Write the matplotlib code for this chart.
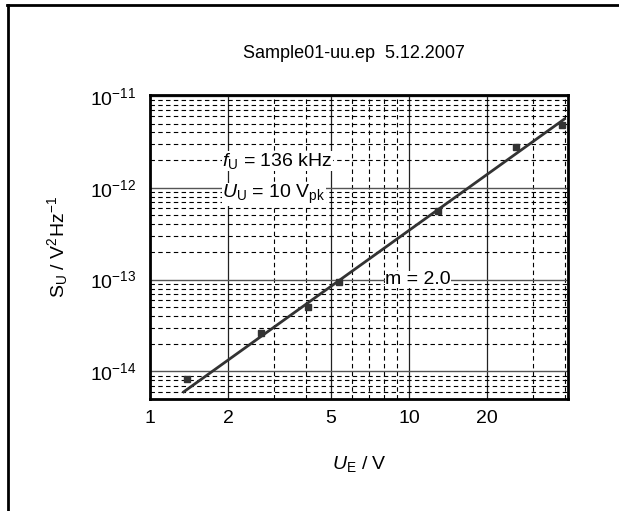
import matplotlib
matplotlib.use("Agg")
import matplotlib.pyplot as plt
from matplotlib.ticker import FixedLocator, FixedFormatter, NullFormatter
from matplotlib.lines import Line2D

plt.rcParams['font.family'] = ['Liberation Sans', 'DejaVu Sans']
plt.rcParams['mathtext.fontset'] = 'custom'
plt.rcParams['mathtext.rm'] = 'Liberation Sans'
plt.rcParams['mathtext.it'] = 'Liberation Sans:italic'
plt.rcParams['mathtext.bf'] = 'Liberation Sans:bold'

# data
ue = [1.39, 2.69, 4.08, 5.38, 12.97, 25.8, 38.8]
su = [8.2e-15, 2.6e-14, 5.0e-14, 9.3e-14, 5.6e-13, 2.76e-12, 4.8e-12]
fit_x = [1.35, 39.8]
fit_y = [6.0e-15, 5.6e-12]

x_major = [1, 2, 5, 10, 20]
x_major_labels = ["1", "2", "5", "10", "20"]
x_minor = [3, 4, 6, 7, 8, 9, 30, 40]

y_major = [1e-14, 1e-13, 1e-12, 1e-11]
y_major_labels = [r"$10^{-14}$", r"$10^{-13}$", r"$10^{-12}$", r"$10^{-11}$"]
y_minor_decades = [1e-15, 1e-14, 1e-13, 1e-12]
y_minor_subs = [2, 3, 4, 5, 6, 7, 8, 9]

title = "Sample01-uu.ep  5.12.2007"

fig = plt.figure(figsize=(6.19, 5.11), dpi=100)
ax = fig.add_axes([150/619, 1-399/511, 418/619, 304/511])

ax.set_xscale('log')
ax.set_yscale('log')
ylo, yhi = 10**-14.3, 10**-10.99
ax.set_xlim(1, 41.1)
ax.set_ylim(ylo, yhi)

ax.xaxis.set_major_locator(FixedLocator(x_major))
ax.xaxis.set_major_formatter(FixedFormatter(x_major_labels))
ax.xaxis.set_minor_locator(FixedLocator(x_minor))
ax.xaxis.set_minor_formatter(NullFormatter())

y_minor = [d * s for d in y_minor_decades for s in y_minor_subs if ylo <= d * s <= yhi]
ax.yaxis.set_major_locator(FixedLocator(y_major))
ax.yaxis.set_major_formatter(FixedFormatter(y_major_labels))
ax.yaxis.set_minor_locator(FixedLocator(y_minor))
ax.yaxis.set_minor_formatter(NullFormatter())

ax.grid(which='major', axis='x', color='#222222', linestyle='-', linewidth=0.9)
ax.grid(which='major', axis='y', color='#555555', linestyle='-', linewidth=1.0)
ax.grid(which='minor', color='black', linestyle=(0, (4, 3)), linewidth=0.8)

ax.tick_params(which='both', length=0, pad=8)
ax.tick_params(axis='x', labelsize=14)
ax.tick_params(axis='y', labelsize=14, pad=10)
for s in ax.spines.values():
    s.set_linewidth(2)

ax.plot(fit_x, fit_y, color='#333333', linewidth=2, zorder=3)
ax.plot(ue, su, linestyle='none', marker='s', markersize=4.5, color='#333333', zorder=4)

bb = dict(facecolor='white', edgecolor='none', pad=0)
ax.text(1.9, 1.94e-12, r"$f_{\mathrm{U}}$ = 136 kHz", fontsize=14, va='center', ha='left', bbox=bb, zorder=5)
ax.text(1.9, 8.5e-13, r"$U_{\mathrm{U}}$ = 10 V$_{\mathrm{pk}}$", fontsize=14, va='center', ha='left', bbox=bb, zorder=5)
ax.text(8.1, 1.0e-13, "m = 2.0", fontsize=14, va='center', ha='left', bbox=bb, zorder=5)

ax.set_xlabel(r"$U_{\mathrm{E}}$ / V", fontsize=14, labelpad=19)
ax.set_ylabel(r"S$_{\mathrm{U}}$ / V$^{2}$Hz$^{-1}$", fontsize=14, labelpad=14)
fig.text(354/619, 1-53/511, title, fontsize=13, ha='center', va='center')

fig.add_artist(Line2D([7/619, 1], [1-5/511, 1-5/511], color='black', linewidth=2, transform=fig.transFigure))
fig.add_artist(Line2D([8/619, 8/619], [0, 1-5/511], color='black', linewidth=2, transform=fig.transFigure))

fig.savefig("out.png", dpi=100)
